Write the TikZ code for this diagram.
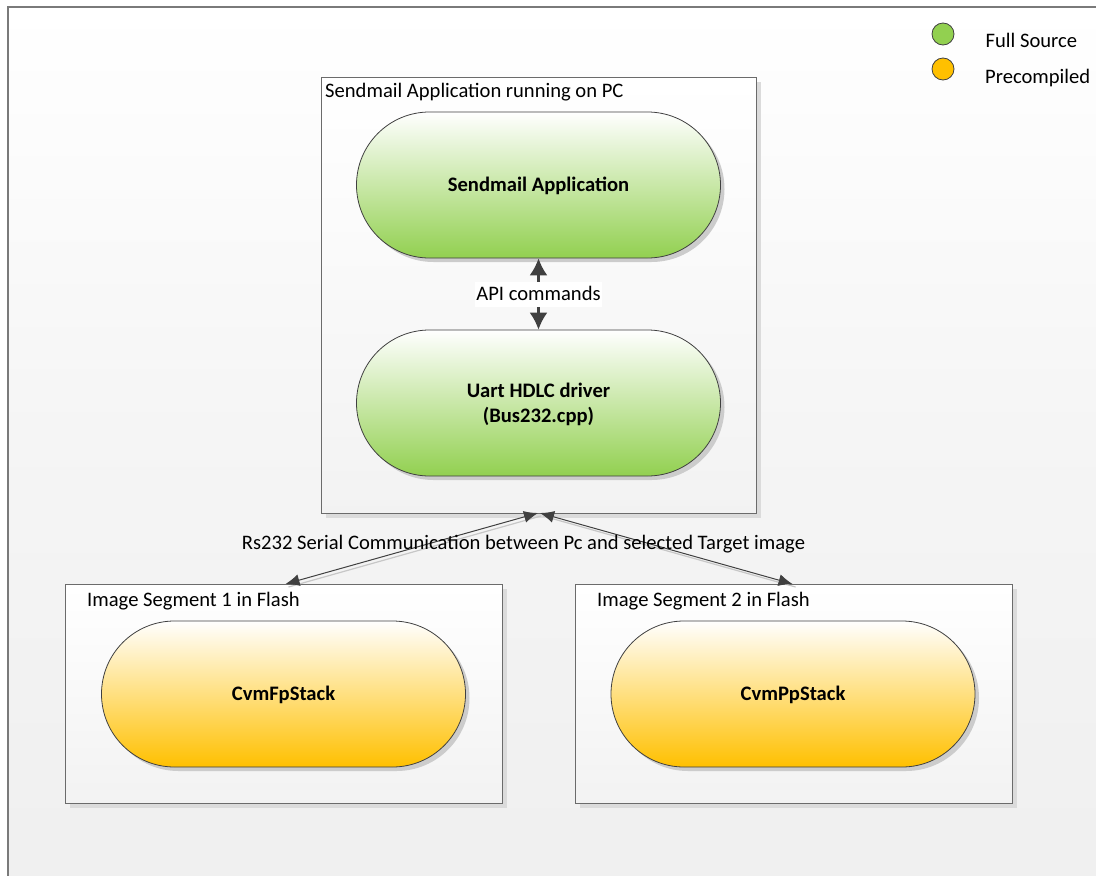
\documentclass[tikz,border=0pt]{standalone}
\usepackage{fontspec}
\setmainfont{Carlito}
\usetikzlibrary{arrows.meta,shadows}
\definecolor{gfull}{HTML}{92D050}
\definecolor{gpre}{HTML}{FFC000}
\definecolor{linec}{HTML}{404040}
\newcommand{\lowertext}[1]{\raisebox{-1.3pt}[\height][\depth]{#1}}
\tikzset{
  x=1pt,y=-1pt,
  softshadow/.style={drop shadow={shadow xshift=4pt,shadow yshift=-4pt,fill=black!20,opacity=1}},
  frameshadow/.style={drop shadow={shadow xshift=4pt,shadow yshift=-4pt,fill=black!14,opacity=1}},
  frame/.style={draw=black!58,line width=1.2pt,top color=white,bottom color=black!5,frameshadow,
    anchor=north west,inner sep=0pt},
  pill/.style={draw=linec,line width=0.8pt,rounded corners=73pt,minimum width=364pt,minimum height=146pt,
    align=center,font=\fontsize{20.6}{25}\selectfont\bfseries,text=black,softshadow},
  pillg/.style={pill,top color=white,bottom color=gfull},
  pillo/.style={pill,top color=white,bottom color=gpre},
  lab/.style={font=\fontsize{20.6}{25}\selectfont,text=black,inner sep=0pt},
  dot/.style={circle,draw=linec,line width=0.8pt,minimum size=22pt,inner sep=0pt},
  biarrow/.style={{Latex[length=17pt,width=18pt]}-{Latex[length=17pt,width=18pt]},draw=linec,line width=2.2pt},
  thinarrow/.style={{Latex[length=14pt,width=12pt]}-{Latex[length=14pt,width=12pt]},draw=linec,line width=1pt},
}
\begin{document}
\begin{tikzpicture}
\useasboundingbox (0,0) rectangle (1096,876);
\fill[white] (0,0) rectangle (1096,876);
\shade[top color=white,bottom color=black!6,middle color=black!4] (8,7) rectangle (1096,876);
\draw[draw=black!52,line width=1.5pt] (1096,7) -- (8,7) -- (8,876);

\node[frame,minimum width=435pt,minimum height=436pt] (pc) at (321,77) {};
\node[frame,minimum width=437pt,minimum height=219pt] (seg1) at (65,584) {};
\node[frame,minimum width=437pt,minimum height=219pt] (seg2) at (575,584) {};

\node[lab,anchor=west] (pctitle) at (325,92.5) {Sendmail Application running on PC};
\node[lab,anchor=west] (s1title) at (87,601.5) {Image Segment 1 in Flash};
\node[lab,anchor=west] (s2title) at (597,601.5) {Image Segment 2 in Flash};

\node[pillg] (app) at (538.5,185) {\lowertext{Sendmail Application}};
\node[pillg] (drv) at (538.5,403) {\lowertext{Uart HDLC driver}\\\lowertext{(Bus232.cpp)}};
\node[pillo] (fp) at (283.5,694) {\lowertext{CvmFpStack}};
\node[pillo] (ppn) at (793,694) {\lowertext{CvmPpStack}};

\draw[biarrow] (app.south) -- (drv.north) node[midway,lab,fill=white,inner xsep=1pt,minimum height=25pt] (api) {\raisebox{1pt}[\height][\depth]{API commands}};

\coordinate (hub1) at (538,513);
\coordinate (hub2) at (540,513);
\coordinate (e1) at (285.5,584);
\coordinate (e2) at (792.6,584);
\draw[black!22,line width=1.2pt] ([shift={(3,3)}]hub1) -- ([shift={(3,3)}]e1);
\draw[black!22,line width=1.2pt] ([shift={(3,3)}]hub2) -- ([shift={(3,3)}]e2);
\draw[thinarrow] (hub1) -- (e1);
\draw[thinarrow] (hub2) -- (e2);
\node[lab] (rs) at (523.5,544.5) {Rs232 Serial Communication between Pc and selected Target image};

\node[dot,fill=gfull] (lg) at (943,34) {};
\node[dot,fill=gpre] (lo) at (943,69) {};
\node[lab,anchor=west] (lgt) at (985.5,40.5) {Full Source};
\node[lab,anchor=west] (lot) at (985,78.5) {Precompiled};
\end{tikzpicture}
\end{document}
